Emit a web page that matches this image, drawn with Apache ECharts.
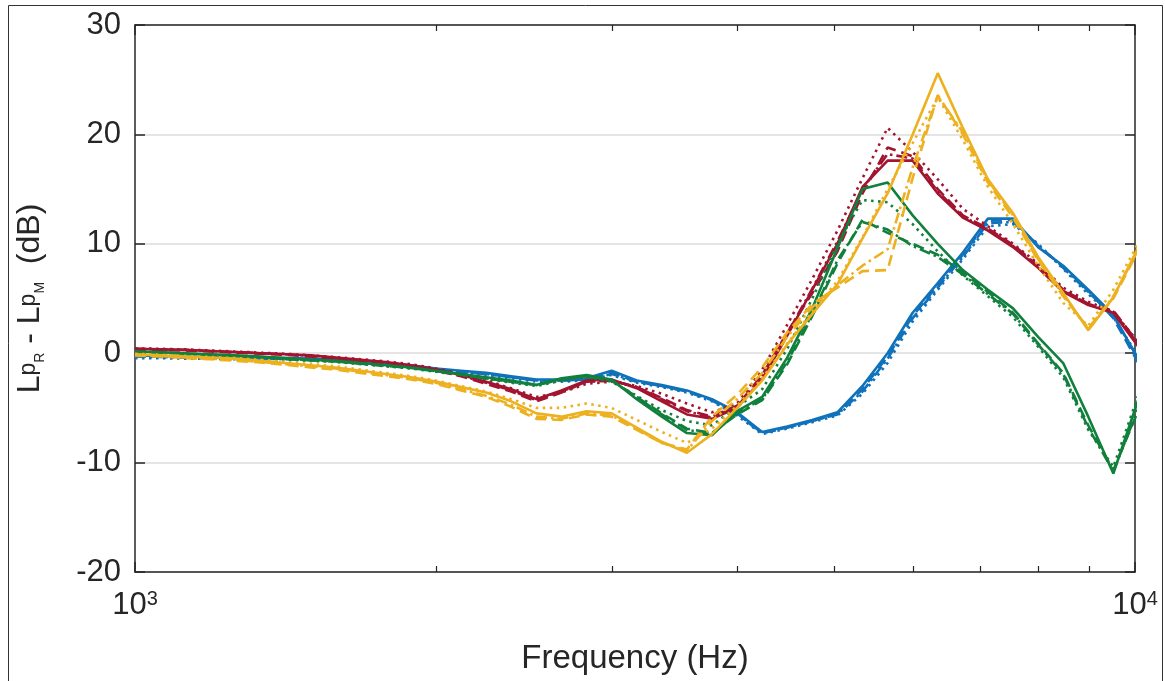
<!DOCTYPE html>
<html>
<head>
<meta charset="utf-8">
<script src="https://cdn.jsdelivr.net/npm/echarts@6/dist/echarts.min.js"></script>
<style>
  html, body { margin: 0; padding: 0; background: #fff; }
  #chart { width: 1165px; height: 681px; }
</style>
</head>
<body>
<div id="chart"></div>
<script>
// 1/12-octave frequency points (Hz)
const freqs = [1000, 1059.5, 1122.5, 1189.2, 1259.9, 1334.8, 1414.2, 1498.3, 1587.4, 1681.8,
  1781.8, 1887.7, 2000, 2118.9, 2244.9, 2378.4, 2519.8, 2669.6, 2828.4, 2996.6,
  3174.8, 3363.6, 3563.6, 3775.5, 4000, 4237.9, 4489.8, 4756.8, 5039.7, 5339.3,
  5656.9, 5993.2, 6349.6, 6727.2, 7127.2, 7551.3, 8000, 8475.9, 8979.7, 9513.7, 10079.4]

const yTicks = [-20, -10, 0, 10, 20, 30]
const minorFreqs = [2000, 3000, 4000, 5000, 6000, 7000, 8000, 9000]

// level difference (dB), one array per curve
const blueSolid = [-0.2, -0.25, -0.3, -0.35, -0.4, -0.4, -0.45, -0.5, -0.6, -0.7, -0.9, -1.1, -1.4, -1.6, -1.8, -2.1,
  -2.4, -2.4, -2.3, -1.6, -2.5, -2.9, -3.4, -4.2, -5.4,
  -7.2, -6.7, -6.1, -5.4, -3.0, 0.0, 3.7, 6.4, 9.2, 12.3, 12.3, 9.7, 8.0, 5.8, 3.5, -0.6]
const blueDashed = [-0.25, -0.3, -0.35, -0.4, -0.45, -0.45, -0.5, -0.55, -0.65, -0.75, -0.95, -1.15, -1.45, -1.7, -1.9, -2.2,
  -2.5, -2.5, -2.4, -1.8, -2.6, -3.0, -3.5, -4.3, -5.5,
  -7.3, -6.8, -6.2, -5.5, -3.3, -0.3, 3.4, 6.2, 9.0, 12.1, 12.2, 9.8, 7.9, 5.7, 3.2, -0.9]
const blueDotted = [-0.45, -0.45, -0.5, -0.5, -0.55, -0.55, -0.6, -0.65, -0.7, -0.8, -1.0, -1.2, -1.5, -1.8, -2.0, -2.3,
  -2.6, -2.6, -2.5, -2.0, -2.7, -3.1, -3.6, -4.4, -5.7,
  -7.4, -6.9, -6.3, -5.7, -3.7, -0.9, 2.9, 5.8, 8.6, 11.6, 11.8, 10.0, 7.7, 5.4, 3.3, -0.3]
const blueDashDot = [-0.3, -0.35, -0.4, -0.45, -0.5, -0.5, -0.55, -0.6, -0.65, -0.75, -0.95, -1.15, -1.45, -1.7, -1.9, -2.2,
  -2.5, -2.5, -2.4, -1.9, -2.6, -3.0, -3.5, -4.3, -5.6,
  -7.3, -6.8, -6.2, -5.6, -3.5, -0.5, 3.2, 6.0, 8.8, 11.9, 12.0, 9.9, 7.8, 5.6, 3.4, -0.5]

const redSolid = [0.4, 0.35, 0.3, 0.2, 0.1, 0.0, -0.1, -0.2, -0.4, -0.6, -0.8, -1.1, -1.5, -2.0, -2.6, -3.3,
  -4.2, -3.4, -2.5, -2.4, -3.2, -4.4, -5.6, -6.0, -5.0,
  -2.4, 1.6, 5.8, 10.0, 15.2, 17.6, 17.6, 14.6, 12.4, 11.2, 9.7, 7.8, 5.6, 4.4, 3.7, 0.6]
const redDashed = [0.35, 0.3, 0.25, 0.15, 0.05, -0.05, -0.15, -0.3, -0.5, -0.7, -0.9, -1.2, -1.6, -2.1, -2.8, -3.5,
  -4.4, -3.6, -2.6, -2.5, -3.1, -4.1, -5.2, -5.8, -4.8,
  -2.0, 1.9, 5.5, 9.3, 14.6, 18.8, 18.0, 15.0, 12.6, 11.4, 9.9, 8.0, 5.8, 4.5, 3.9, 0.9]
const redDotted = [0.45, 0.4, 0.35, 0.25, 0.15, 0.05, -0.05, -0.2, -0.35, -0.55, -0.75, -1.0, -1.4, -1.9, -2.5, -3.2,
  -4.0, -3.6, -2.8, -2.6, -3.0, -3.7, -4.6, -5.4, -4.6,
  -1.5, 2.6, 6.8, 11.2, 16.0, 20.6, 18.4, 15.9, 13.2, 11.6, 10.0, 8.2, 6.0, 4.7, 3.8, 1.0]
const redDashDot = [0.4, 0.35, 0.3, 0.2, 0.1, 0.0, -0.1, -0.25, -0.45, -0.65, -0.85, -1.15, -1.55, -2.05, -2.7, -3.4,
  -4.3, -3.5, -2.6, -2.5, -3.1, -4.2, -5.3, -5.9, -4.9,
  -2.1, 1.8, 5.9, 10.2, 15.0, 18.2, 17.8, 14.8, 12.5, 11.3, 9.8, 7.9, 5.7, 4.5, 3.8, 0.8]

const greenSolid = [0.15, 0.1, 0.0, -0.1, -0.2, -0.3, -0.45, -0.6, -0.7, -0.9, -1.1, -1.3, -1.6, -1.9, -2.2, -2.5,
  -2.9, -2.3, -2.0, -2.4, -4.2, -5.8, -7.3, -7.5, -5.3,
  -4.0, -0.4, 4.1, 9.6, 15.0, 15.6, 12.6, 10.0, 7.6, 5.8, 4.1, 1.5, -0.9, -5.8, -11.0, -4.2]
const greenDashed = [0.1, 0.05, -0.05, -0.15, -0.25, -0.35, -0.5, -0.65, -0.75, -0.95, -1.15, -1.35, -1.65, -1.95, -2.3, -2.6,
  -2.9, -2.4, -2.1, -2.5, -4.0, -5.5, -6.9, -7.3, -5.6,
  -4.3, -1.0, 3.4, 8.2, 12.2, 11.0, 10.0, 9.0, 7.4, 5.6, 3.7, 0.9, -1.8, -6.6, -10.7, -5.2]
const greenDotted = [0.05, 0.0, -0.1, -0.2, -0.3, -0.4, -0.55, -0.7, -0.8, -1.0, -1.2, -1.4, -1.7, -2.0, -2.35, -2.7,
  -3.0, -2.5, -2.2, -2.6, -3.9, -5.2, -6.2, -6.6, -4.9,
  -3.3, 0.4, 5.0, 10.0, 14.0, 13.8, 11.8, 9.3, 7.1, 5.2, 3.3, 0.6, -2.2, -7.0, -10.4, -3.8]
const greenDashDot = [0.1, 0.05, -0.05, -0.15, -0.25, -0.35, -0.5, -0.65, -0.75, -0.95, -1.15, -1.35, -1.65, -1.95, -2.3, -2.6,
  -2.9, -2.4, -2.1, -2.5, -4.0, -5.6, -7.0, -7.4, -5.5,
  -4.2, -0.8, 3.6, 8.5, 12.0, 11.3, 9.8, 8.8, 7.2, 5.4, 3.6, 0.8, -1.9, -6.8, -10.8, -5.0]

const yellowSolid = [-0.1, -0.2, -0.3, -0.4, -0.5, -0.7, -0.9, -1.1, -1.3, -1.6, -1.9, -2.2, -2.6, -3.1, -3.6, -4.4,
  -5.5, -5.8, -5.3, -5.5, -6.8, -8.1, -9.1, -7.4, -5.0,
  -2.5, 0.8, 3.6, 6.3, 10.5, 14.6, 20.0, 25.6, 20.6, 15.9, 12.8, 8.8, 5.5, 2.1, 5.1, 9.7]
const yellowDashed = [-0.2, -0.3, -0.45, -0.55, -0.7, -0.85, -1.05, -1.3, -1.5, -1.8, -2.1, -2.4, -2.8, -3.4, -4.0, -4.9,
  -6.0, -6.1, -5.6, -5.8, -7.0, -8.2, -8.8, -5.8, -3.8,
  -1.3, 1.9, 4.5, 6.0, 7.5, 7.6, 16.0, 23.6, 20.0, 15.6, 12.4, 8.5, 5.2, 2.3, 5.0, 9.4]
const yellowDotted = [-0.05, -0.15, -0.25, -0.35, -0.45, -0.6, -0.8, -1.0, -1.2, -1.5, -1.8, -2.1, -2.5, -3.0, -3.5, -4.2,
  -5.0, -5.0, -4.6, -5.0, -6.1, -7.2, -8.2, -6.9, -4.8,
  -2.3, 0.9, 3.8, 6.6, 10.6, 15.0, 19.2, 23.4, 19.5, 15.2, 11.8, 8.0, 4.6, 2.5, 5.8, 10.1]
const yellowDashDot = [-0.15, -0.25, -0.4, -0.5, -0.6, -0.8, -1.0, -1.2, -1.4, -1.7, -2.0, -2.3, -2.7, -3.3, -3.9, -4.7,
  -5.8, -6.0, -5.5, -5.7, -6.9, -8.2, -8.9, -6.2, -4.2,
  -1.8, 1.5, 4.2, 6.2, 8.0, 9.5, 17.0, 23.5, 20.2, 15.8, 12.6, 8.6, 5.3, 2.2, 5.2, 9.5]

const BLUE = '#0F72BA'
const RED = '#A2142F'
const GREEN = '#11803D'
const YELLOW = '#EDB120'
const AXIS = '#262626'
const FONT = '"Liberation Sans", Arial, Helvetica, sans-serif'

const DASH = [11, 6]
const DOT = [2.5, 4.5]
const DASHDOT = [11, 4, 2.5, 4]

function curve(name, values, color, type) {
  return {
    name: name,
    type: 'line',
    data: freqs.map((f, i) => [f, values[i]]),
    showSymbol: false,
    clip: true,
    lineStyle: { color: color, width: 2.6, type: type },
    itemStyle: { color: color },
    animation: false,
    silent: true
  }
}

const chart = echarts.init(document.getElementById('chart'))

const logTickRich = {
  b: { fontSize: 31, fontFamily: FONT, color: AXIS, verticalAlign: 'bottom', lineHeight: 32, padding: [10, 0, 0, 0] },
  s: { fontSize: 20, fontFamily: FONT, color: AXIS, verticalAlign: 'top', lineHeight: 22 }
}

const minorAxis = pos => ({
  type: 'value',
  min: 3,
  max: 4,
  position: pos,
  axisLine: { show: false, onZero: false },
  axisTick: { show: true, inside: true, length: 6, lineStyle: { color: AXIS, width: 1.2 },
    customValues: minorFreqs.map(f => Math.log10(f)) },
  axisLabel: { show: false },
  splitLine: { show: false }
})

chart.setOption({
  backgroundColor: '#fff',
  animation: false,
  grid: { left: 135, right: 30, top: 25, bottom: 109, containLabel: false },
  graphic: [{
    type: 'rect',
    shape: { x: 8.5, y: 5.5, width: 1154, height: 690 },
    style: { fill: 'none', stroke: '#333', lineWidth: 1 },
    silent: true
  }],
  xAxis: [
    {
      type: 'log',
      logBase: 10,
      min: 1000,
      max: 10000,
      name: 'Frequency (Hz)',
      nameLocation: 'middle',
      nameGap: 70,
      nameTextStyle: { fontSize: 33, fontFamily: FONT, color: AXIS },
      axisLine: { show: true, onZero: false, lineStyle: { color: AXIS, width: 1.5 } },
      axisTick: { show: true, inside: true, length: 10, lineStyle: { color: AXIS, width: 1.5 } },
      axisLabel: {
        show: true,
        margin: 17,
        showMinLabel: true,
        showMaxLabel: true,
        formatter: v => '{b|10}{s|' + Math.round(Math.log10(v)) + '}',
        rich: logTickRich
      },
      splitLine: { show: false },
      minorTick: { show: false }
    },
    {
      type: 'log',
      logBase: 10,
      min: 1000,
      max: 10000,
      position: 'top',
      axisLine: { show: true, onZero: false, lineStyle: { color: AXIS, width: 1.5 } },
      axisTick: { show: true, inside: true, length: 10, lineStyle: { color: AXIS, width: 1.5 } },
      axisLabel: { show: false },
      splitLine: { show: false }
    },
    minorAxis('bottom'),
    minorAxis('top')
  ],
  yAxis: [
    {
      type: 'value',
      min: -20,
      max: 30,
      interval: 10,
      name: '{L|L}{p|p}{s|R}{t| - }{L|L}{p|p}{s|M}{t|  (dB)}',
      nameLocation: 'middle',
      nameGap: 88,
      nameTextStyle: {
        fontSize: 32, fontFamily: FONT, color: AXIS,
        rich: {
          L: { fontSize: 32, fontFamily: FONT, color: AXIS, lineHeight: 33, padding: [0, 0, 13, 0], verticalAlign: 'top' },
          t: { fontSize: 32, fontFamily: FONT, color: AXIS, lineHeight: 33, padding: [0, 0, 13, 0], verticalAlign: 'top' },
          p: { fontSize: 23, fontFamily: FONT, color: AXIS, lineHeight: 25, padding: [0, 0, 7, 0], verticalAlign: 'bottom' },
          s: { fontSize: 14, fontFamily: FONT, color: AXIS, lineHeight: 15, verticalAlign: 'bottom' }
        }
      },
      axisLine: { show: true, onZero: false, lineStyle: { color: AXIS, width: 1.5 } },
      axisTick: { show: true, inside: true, length: 10, lineStyle: { color: AXIS, width: 1.5 } },
      axisLabel: {
        fontSize: 31, fontFamily: FONT, color: AXIS, margin: 14,
        customValues: yTicks
      },
      splitLine: { show: true, lineStyle: { color: '#dcdcdc', width: 1.5 } }
    },
    {
      type: 'value',
      min: -20,
      max: 30,
      interval: 10,
      position: 'right',
      axisLine: { show: true, onZero: false, lineStyle: { color: AXIS, width: 1.5 } },
      axisTick: { show: true, inside: true, length: 10, lineStyle: { color: AXIS, width: 1.5 } },
      axisLabel: { show: false },
      splitLine: { show: false }
    }
  ],
  series: [
    curve('blue solid', blueSolid, BLUE, 'solid'),
    curve('blue dashed', blueDashed, BLUE, DASH),
    curve('blue dotted', blueDotted, BLUE, DOT),
    curve('blue dash-dot', blueDashDot, BLUE, DASHDOT),
    curve('red solid', redSolid, RED, 'solid'),
    curve('red dashed', redDashed, RED, DASH),
    curve('red dotted', redDotted, RED, DOT),
    curve('red dash-dot', redDashDot, RED, DASHDOT),
    curve('green solid', greenSolid, GREEN, 'solid'),
    curve('green dashed', greenDashed, GREEN, DASH),
    curve('green dotted', greenDotted, GREEN, DOT),
    curve('green dash-dot', greenDashDot, GREEN, DASHDOT),
    curve('yellow solid', yellowSolid, YELLOW, 'solid'),
    curve('yellow dashed', yellowDashed, YELLOW, DASH),
    curve('yellow dotted', yellowDotted, YELLOW, DOT),
    curve('yellow dash-dot', yellowDashDot, YELLOW, DASHDOT)
  ]
})
</script>
</body>
</html>
